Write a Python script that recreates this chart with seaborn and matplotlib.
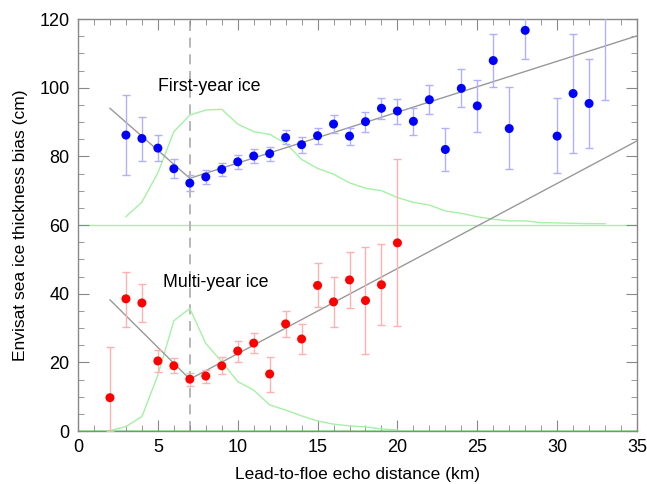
import matplotlib
matplotlib.use("Agg")
import matplotlib.pyplot as plt
import numpy as np
import pandas as pd
import seaborn as sns
from matplotlib.ticker import MultipleLocator

# ── First-year ice ────────────────────────────────────────────────────────────
fy_dist = [3, 4, 5, 6, 7, 8, 9, 10, 11, 12, 13, 14, 15, 16, 17, 18, 19, 20,
           21, 22, 23, 24, 25, 26, 27, 28, 30, 31, 32, 33]
fy_bias = [86.2, 85.2, 82.4, 76.4, 72.2, 74.0, 76.2, 78.4, 80.1, 80.8, 85.5,
           83.4, 86.0, 89.4, 85.9, 90.1, 94.0, 93.2, 90.2, 96.5, 82.0, 99.8,
           94.7, 107.9, 88.1, 116.7, 85.9, 98.3, 95.4, 135.0]
fy_hi = [98.0, 91.6, 86.1, 79.1, 74.6, 75.9, 78.2, 80.5, 82.2, 82.6, 87.6,
         85.7, 88.4, 92.0, 88.4, 93.0, 97.1, 96.8, 94.2, 100.8, 88.4, 105.3,
         102.1, 115.5, 100.1, 125.0, 97.0, 115.7, 108.5, 174.0]
fy_lo = [74.6, 78.7, 78.7, 73.8, 69.9, 71.9, 74.2, 76.3, 78.1, 78.6, 83.6,
         81.1, 83.5, 86.9, 83.2, 87.1, 90.9, 89.5, 86.3, 92.3, 75.8, 94.3,
         87.2, 100.3, 76.2, 108.3, 75.1, 80.9, 82.3, 96.4]

fy_fit_x = [2, 7, 35]
fy_fit_y = [94.0, 73.6, 115.1]

fy_hist_x = list(range(3, 34))
fy_hist_y = [62.4, 66.7, 75.2, 87.2, 92.0, 93.5, 93.7, 89.4, 87.2, 86.4, 83.8,
             79.1, 76.5, 74.8, 72.3, 70.7, 70.0, 68.0, 66.6, 65.8, 64.1, 63.4,
             62.4, 61.7, 61.2, 61.2, 60.7, 60.6, 60.5, 60.4, 60.4]

# ── Multi-year ice ────────────────────────────────────────────────────────────
my_dist = list(range(2, 21))
my_bias = [9.7, 38.5, 37.3, 20.4, 19.0, 15.1, 16.0, 19.0, 23.3, 25.6, 16.6,
           31.2, 26.8, 42.4, 37.6, 44.0, 38.0, 42.6, 54.8]
my_hi = [24.6, 46.4, 42.7, 23.6, 21.2, 17.0, 17.8, 21.5, 26.3, 28.4, 21.6,
         35.0, 31.1, 48.8, 44.8, 52.2, 53.5, 54.5, 79.1]
my_lo = [0.0, 30.4, 31.8, 17.1, 17.0, 13.1, 13.9, 16.5, 20.2, 22.6, 11.3,
         27.5, 22.3, 36.0, 30.4, 35.7, 22.3, 30.8, 30.6]

my_fit_x = [2, 7, 35]
my_fit_y = [38.2, 15.1, 84.5]

my_hist_x = list(range(2, 21))
my_hist_y = [0.1, 1.3, 4.2, 16.3, 32.1, 35.7, 25.5, 20.2, 14.4, 11.9, 7.6,
             6.1, 4.4, 2.9, 2.0, 1.5, 1.2, 0.6, 0.3]

split_dist = 7

plt.rcParams["font.family"] = ["Liberation Sans", "DejaVu Sans"]

fig = plt.figure(figsize=(6.47, 4.84), dpi=100)
ax = fig.add_axes([0.1206, 0.1095, 0.8639, 0.8512])

green = "#a6f0a6"
ax.axhline(60, color=green, lw=1, zorder=1)
ax.axhline(0, color=green, lw=1.5, zorder=1)
ax.axvline(split_dist, color="#aaaaaa", lw=1.2, ls=(0, (6, 4)), zorder=1)

sns.lineplot(x=fy_hist_x, y=fy_hist_y, color=green, lw=1, ax=ax, zorder=2)
sns.lineplot(x=my_hist_x, y=my_hist_y, color=green, lw=1, ax=ax, zorder=2)

sns.lineplot(x=fy_fit_x, y=fy_fit_y, color="#999999", lw=1, ax=ax, zorder=3)
sns.lineplot(x=my_fit_x, y=my_fit_y, color="#999999", lw=1, ax=ax, zorder=3)

fy = pd.DataFrame({"d": fy_dist, "b": fy_bias, "lo": fy_lo, "hi": fy_hi})
my = pd.DataFrame({"d": my_dist, "b": my_bias, "lo": my_lo, "hi": my_hi})

ax.errorbar(fy["d"], fy["b"], yerr=[fy["b"] - fy["lo"], fy["hi"] - fy["b"]],
            fmt="none", ecolor="#b0b0ff", elinewidth=1, capsize=3, zorder=4)
ax.errorbar(my["d"], my["b"], yerr=[my["b"] - my["lo"], my["hi"] - my["b"]],
            fmt="none", ecolor="#ffb0b0", elinewidth=1, capsize=3, zorder=4)

sns.scatterplot(data=fy, x="d", y="b", color="#0000ff", s=42, edgecolor="none",
                ax=ax, zorder=5)
sns.scatterplot(data=my, x="d", y="b", color="#ff0000", s=42, edgecolor="none",
                ax=ax, zorder=5)

ax.text(8.2, 100.2, "First-year ice", fontsize=12.8, ha="center", va="center")
ax.text(8.6, 43.2, "Multi-year ice", fontsize=12.8, ha="center", va="center")

ax.set_xlim(0, 35)
ax.set_ylim(0, 120)
ax.xaxis.set_major_locator(MultipleLocator(5))
ax.xaxis.set_minor_locator(MultipleLocator(1))
ax.yaxis.set_major_locator(MultipleLocator(20))
ax.yaxis.set_minor_locator(MultipleLocator(5))
ax.tick_params(which="both", direction="in", top=True, right=True,
               color="#888888", labelsize=13, pad=6)
ax.tick_params(which="major", length=8)
ax.tick_params(which="minor", length=4)
for s in ax.spines.values():
    s.set_color("#888888")
    s.set_linewidth(1)

ax.set_xlabel("Lead-to-floe echo distance (km)", fontsize=12.5, labelpad=8)
ax.set_ylabel("Envisat sea ice thickness bias (cm)", fontsize=12.5, labelpad=8)

fig.savefig("out.png", dpi=100)
